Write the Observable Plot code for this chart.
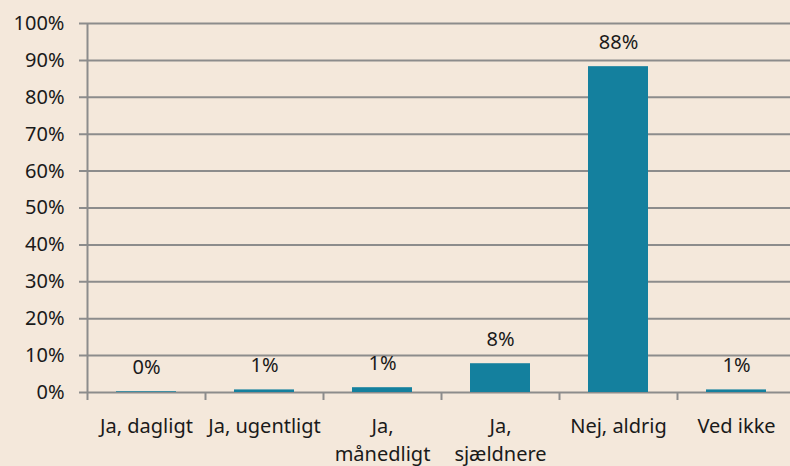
<!DOCTYPE html>
<html>
<head>
<meta charset="utf-8">
<script src="https://cdn.jsdelivr.net/npm/d3@7"></script>
<script src="https://cdn.jsdelivr.net/npm/@observablehq/plot@0.6"></script>
<style>
  html, body { margin: 0; padding: 0; background: #f4e8db; overflow: hidden; }
  #chart svg { display: block; }
</style>
</head>
<body>
<div id="chart"></div>
<script>
const categories = ["Ja, dagligt", "Ja, ugentligt", "Ja, månedligt", "Ja, sjældnere", "Nej, aldrig", "Ved ikke"];
const tickLabels = ["Ja, dagligt", "Ja, ugentligt", "Ja,\nmånedligt", "Ja,\nsjældnere", "Nej, aldrig", "Ved ikke"];
const values = [0.002, 0.007, 0.013, 0.078, 0.883, 0.007];
const yTicks = [0, 0.1, 0.2, 0.3, 0.4, 0.5, 0.6, 0.7, 0.8, 0.9, 1.0];

const data = categories.map((c, i) => ({category: c, value: values[i], label: tickLabels[i]}));
const labelOf = new Map(data.map(d => [d.category, d.label]));
const pct = d3.format(".0%");
const grey = "#8c8c8c";
const font = "'Noto Sans', sans-serif";

const chart = Plot.plot({
  width: 790,
  height: 466,
  marginTop: 23,
  marginBottom: 74,
  marginLeft: 87,
  marginRight: -5,
  style: {background: "#f4e8db", fontFamily: font, fontSize: "20px", color: "#1a1a1a", overflow: "visible"},
  x: {domain: categories, paddingInner: 0.49, paddingOuter: 0.245, align: 0.5},
  y: {domain: [0, 1], nice: false},
  marks: [
    Plot.ruleY(yTicks, {y: d => d, stroke: grey, strokeWidth: 2, insetLeft: -8}),
    Plot.ruleX([categories[0]], {x: d => d, y1: 0, y2: 1, dx: -59, insetTop: 8, stroke: grey, strokeWidth: 2}),
    Plot.ruleX(categories.slice(1), {x: d => d, y1: 0, y2: 0, dx: -59, insetTop: 8, stroke: grey, strokeWidth: 2}),
    Plot.barY(data, {x: "category", y: "value", fill: "#14809e"}),
    Plot.text(data, {x: "category", y: "value", text: d => pct(d.value), dy: -24, fontSize: 20, fill: "#1a1a1a", fontFamily: font}),
    Plot.axisY({ticks: yTicks, tickFormat: d => pct(d), tickSize: 0, tickPadding: 23, fontSize: 20, fill: "#1a1a1a", label: null}),
    Plot.axisX({tickSize: 0, tickPadding: 21, tickFormat: d => labelOf.get(d), fontSize: 20, fill: "#1a1a1a", lineHeight: 1.4, label: null})
  ]
});
document.getElementById("chart").append(chart);
</script>
</body>
</html>
